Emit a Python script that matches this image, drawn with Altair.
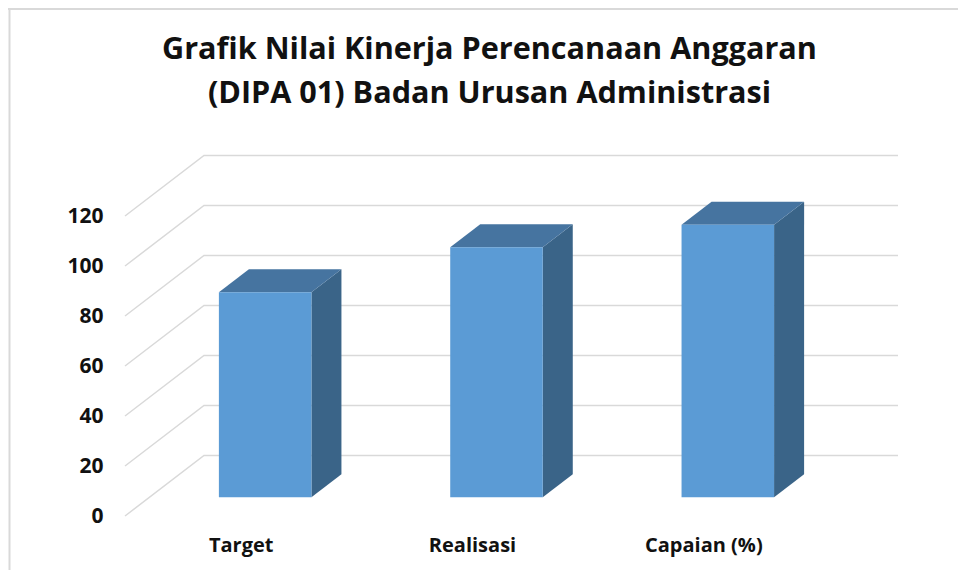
import altair as alt
import pandas as pd

TITLE_LINES = ["Grafik Nilai Kinerja Perencanaan Anggaran", "(DIPA 01) Badan Urusan Administrasi"]
CATEGORIES = ["Target", "Realisasi", "Capaian (%)"]
VALUES = [82, 100, 109]
TICKS = [0, 20, 40, 60, 80, 100, 120]

FONT = "Open Sans"
WALL_X = 79 / 231.33      # horizontal depth shift, in category units
WALL_Y = 60.5 / 2.5       # vertical depth shift, in value units
BAR_W = 0.4
D0, D1 = 0.31, 0.69       # bar depth on the floor


def proj(slot, value, depth):
    return slot + WALL_X * depth, value + WALL_Y * depth


# grid: front-left end, back-left corner, back-right end
grid_rows = []
for t in TICKS:
    for s, d in [(0, 0), (0, 1), (3, 1)]:
        x, y = proj(s, t, d)
        grid_rows.append({"tick": t, "x": x, "y": y})
grid_df = pd.DataFrame(grid_rows)

front_rows, side_rows, top_rows = [], [], []
for i, v in enumerate(VALUES):
    left = i + 0.5 - BAR_W / 2
    right = i + 0.5 + BAR_W / 2
    x0, y0 = proj(left, 0, D0)
    x1, _ = proj(right, 0, D0)
    front_rows += [{"bar": i, "x": x0, "y": y0, "y2": y0 + v}, {"bar": i, "x": x1, "y": y0, "y2": y0 + v}]
    x2, y2 = proj(right, 0, D1)
    side_rows += [{"bar": i, "x": x1, "y": y0, "y2": y0 + v}, {"bar": i, "x": x2, "y": y2, "y2": y2 + v}]
    x3, _ = proj(left, 0, D1)
    ty0, ty1 = y0 + v, y2 + v
    top_rows += [
        {"bar": i, "x": x0, "y": ty0, "y2": ty0},
        {"bar": i, "x": x3, "y": ty0, "y2": ty1},
        {"bar": i, "x": x1, "y": ty0, "y2": ty1},
        {"bar": i, "x": x2, "y": ty1, "y2": ty1},
    ]

W, H = 950, 562
x_scale = alt.Scale(domain=[(8 - 125) / 231.33, (8 + W - 125) / 231.33], nice=False, zero=False)
y_scale = alt.Scale(domain=[(516 - (8 + H)) / 2.5, (516 - 8) / 2.5], nice=False, zero=False)

label_map = "{" + ",".join(f"'{i + 0.5}':'{c}'" for i, c in enumerate(CATEGORIES)) + "}"
x_axis = alt.Axis(values=[i + 0.5 for i in range(len(CATEGORIES))], labelExpr=f"{label_map}[''+datum.value]",
                  orient="bottom", offset=-35, domain=False, ticks=False, grid=False, title=None,
                  labelFont=FONT, labelFontSize=20, labelFontWeight="bold", labelColor="#111111",
                  labelPadding=0, labelBaseline="top", labelOverlap=False, labelFlush=False)
y_axis = alt.Axis(values=TICKS, orient="left", offset=-95, domain=False, ticks=False, grid=False, title=None,
                  labelFont=FONT, labelFontSize=21, labelFontWeight="bold", labelColor="#111111",
                  labelPadding=0, labelOverlap=False, labelFlush=False)

grid = alt.Chart(grid_df).mark_line(color="#d9d9d9", strokeWidth=1.5).encode(
    x=alt.X("x:Q", scale=x_scale, axis=x_axis),
    y=alt.Y("y:Q", scale=y_scale, axis=y_axis),
    detail="tick:N",
    order=alt.Order("x:Q"),
)


def face(rows, color):
    return alt.Chart(pd.DataFrame(rows)).mark_area(color=color, orient="vertical", interpolate="linear").encode(
        x=alt.X("x:Q", scale=x_scale, axis=x_axis),
        y=alt.Y("y:Q", scale=y_scale, axis=y_axis),
        y2="y2:Q",
        detail="bar:N",
    )


border_left = alt.Chart(pd.DataFrame({"a": [0]})).mark_rule(color="#d9d9d9", strokeWidth=2).encode(
    x=alt.value(1.5), y=alt.value(0), y2=alt.value(H))
border_top = alt.Chart(pd.DataFrame({"a": [0]})).mark_rule(color="#d9d9d9", strokeWidth=2).encode(
    y=alt.value(1), x=alt.value(0), x2=alt.value(W))

chart = alt.layer(
    border_left, border_top, grid,
    face(side_rows, "#3a6488"), face(top_rows, "#4674a0"), face(front_rows, "#5b9bd5"),
).properties(
    width=W, height=H, padding=0, autosize="none", background="white",
    title=alt.TitleParams(text=TITLE_LINES, anchor="middle", dx=6.5, offset=-103, font=FONT, fontSize=30.6,
                          fontWeight="bold", color="#111111", lineHeight=44),
).configure_view(stroke=None)

chart.save("out.html", embed_options={"renderer": "svg", "actions": False})
